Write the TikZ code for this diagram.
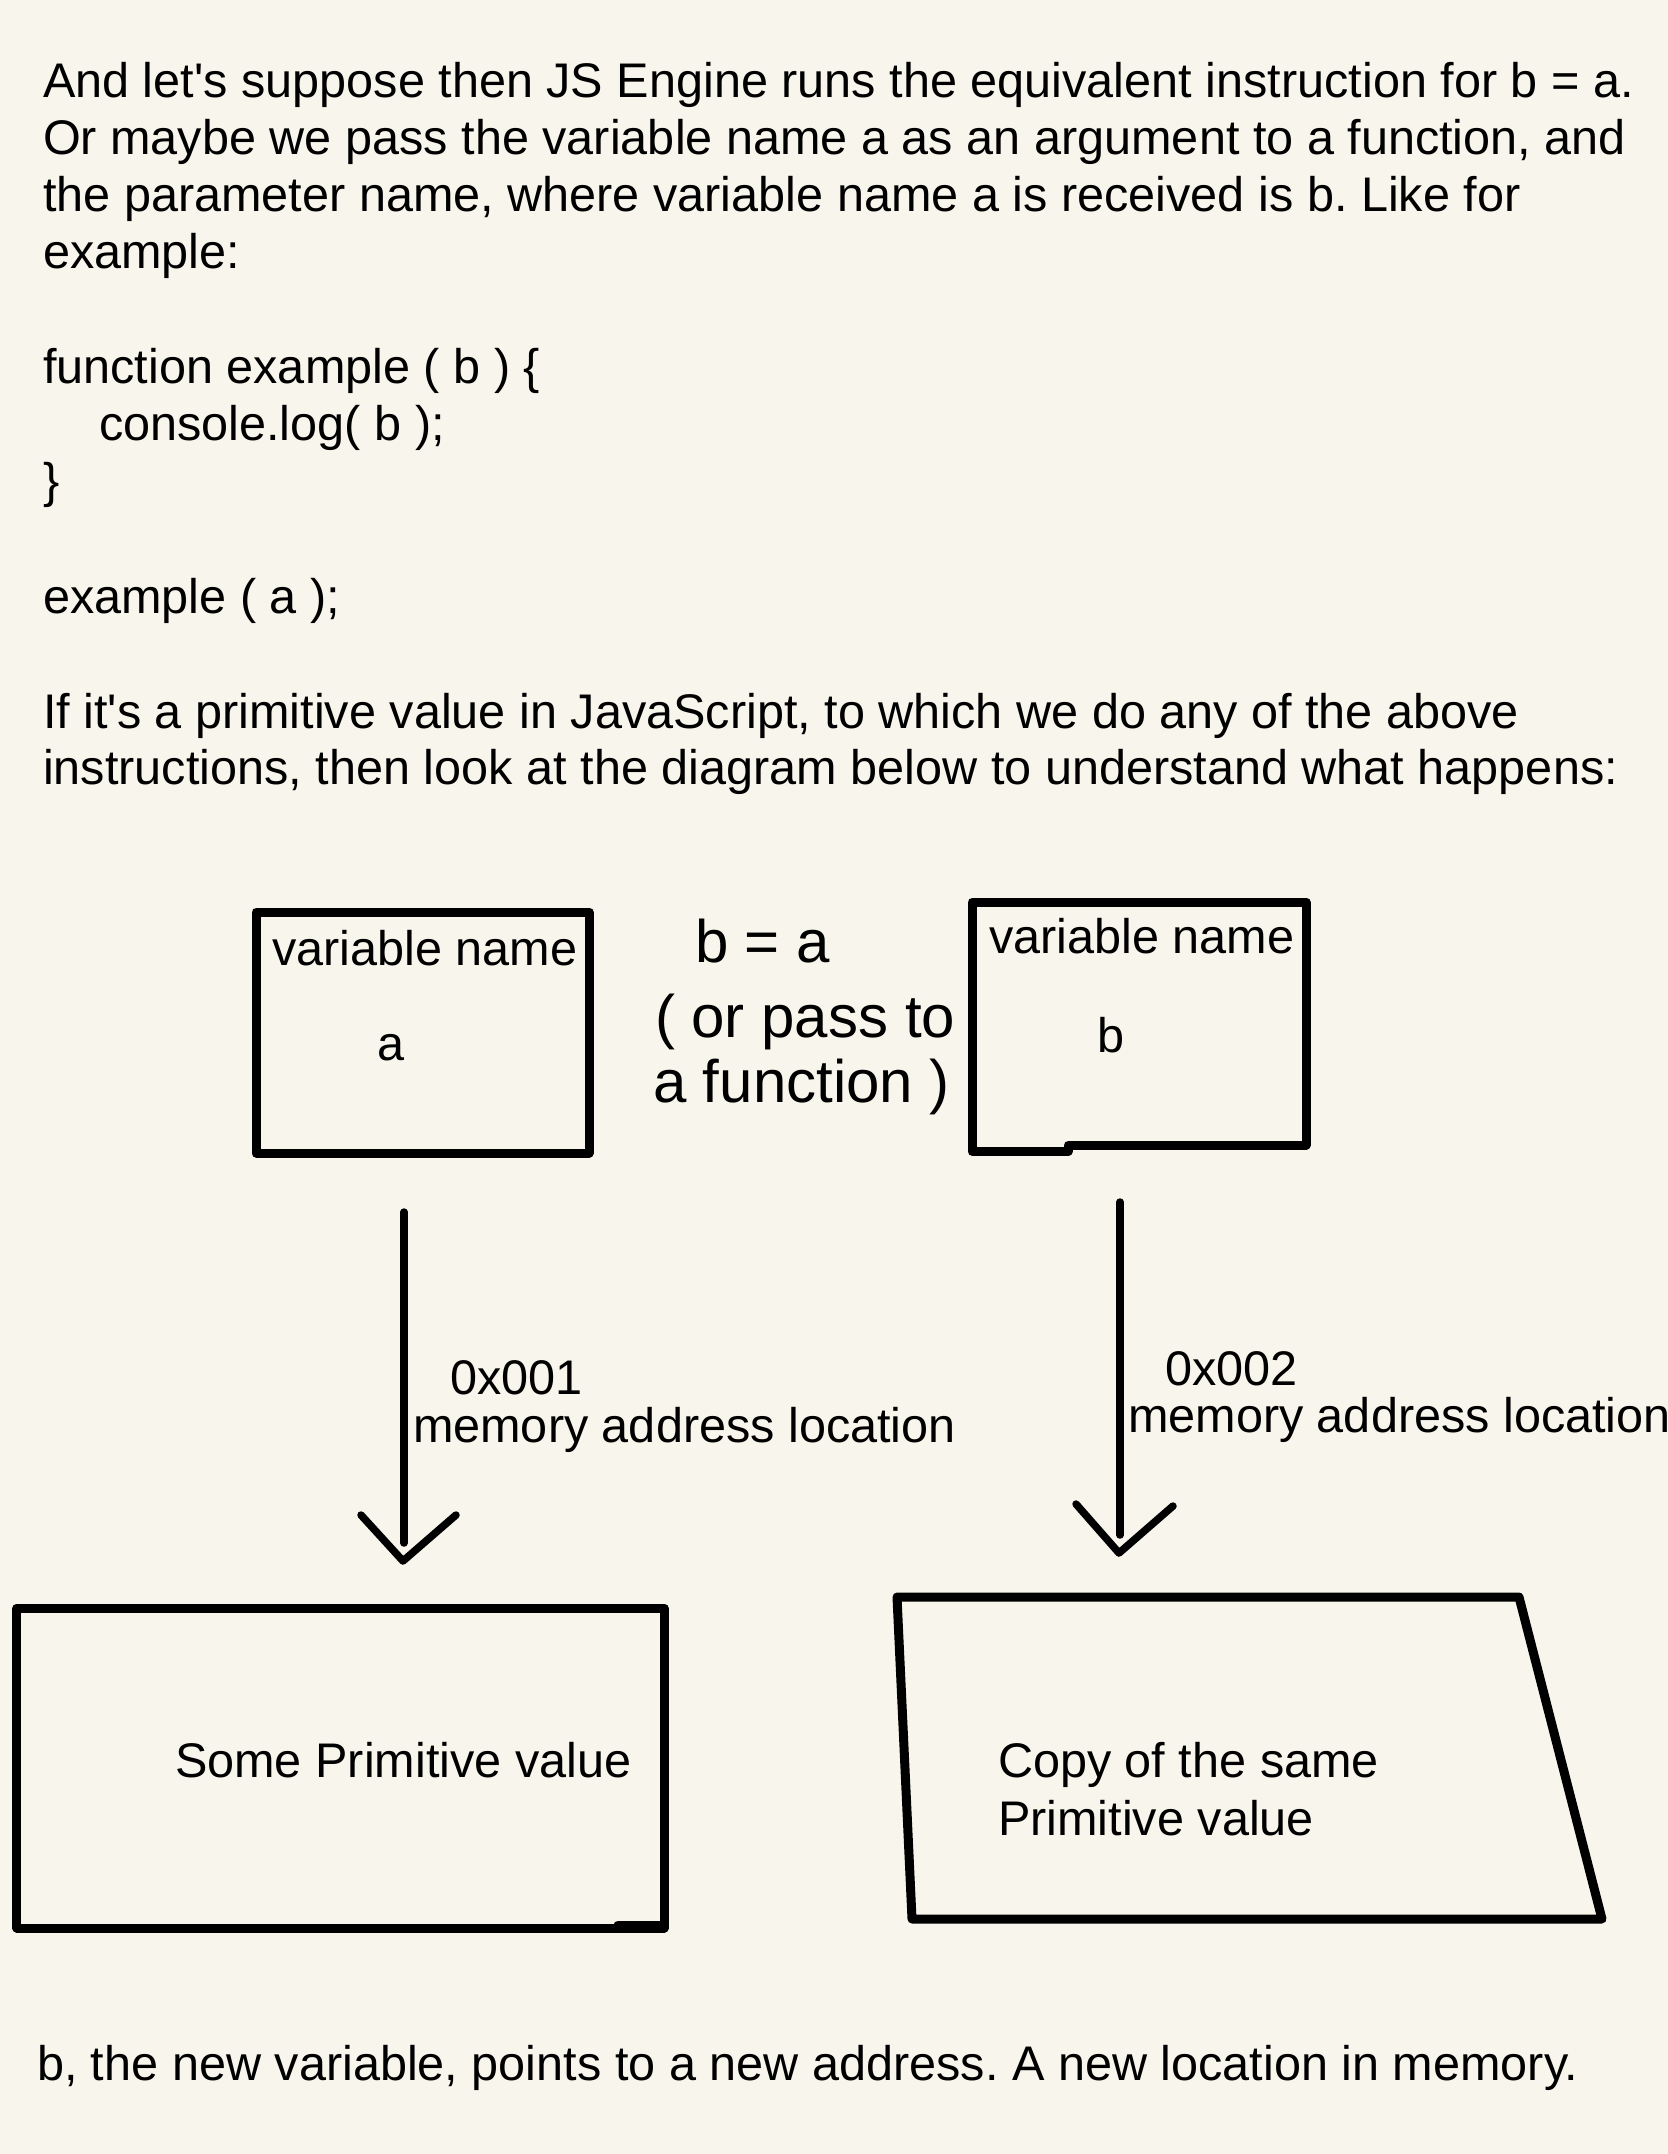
\documentclass[tikz,border=0pt]{standalone}
\usepackage{fontspec}
\setmainfont{Liberation Sans}
\definecolor{paper}{RGB}{248,246,236}
\frenchspacing
\begin{document}
\begin{tikzpicture}[x=1bp,y=-1bp,line cap=round,line join=round,
  txt/.style={anchor=base west,inner sep=0pt,outer sep=0pt,font=\fontsize{48.6bp}{57bp}\selectfont},
  big/.style={txt,font=\fontsize{60bp}{70bp}\selectfont},
  shapeline/.style={draw=black,line width=9bp},
  arr/.style={draw=black,line width=7.5bp}]
\fill[paper] (0,0) rectangle (1668,2154);
\useasboundingbox (0,0) rectangle (1668,2154);

% intro text
\node[txt] (t1) at (43,97) {And let\textquotesingle s suppose then JS Engine runs the equivalent instruction for b = a.};
\node[txt] (t2) at (43,154) {Or maybe we pass the variable name a as an argument to a function, and};
\node[txt] (t3) at (43,211) {the parameter name, where variable name a is received is b. Like for};
\node[txt] (t4) at (43,268) {example:};
\node[txt] (c1) at (43,383) {function example ( b ) \{};
\node[txt] (c2) at (99,440) {console.log( b );};
\node[txt] (c3) at (43,497) {\}};
\node[txt] (c4) at (43,613) {example ( a );};
\node[txt] (t5) at (43,728) {If it\textquotesingle s a primitive value in JavaScript, to which we do any of the above};
\node[txt] (t6) at (43,784) {instructions, then look at the diagram below to understand what happens:};

% variable boxes
\node[shapeline,minimum width=333bp,minimum height=241bp,inner sep=0pt] (boxA) at (422.5,1032.5) {};
\node[txt] (boxAname) at (272,965) {variable name};
\node[txt] (boxAvar) at (377,1060) {a};

\coordinate (bTL) at (972,902);
\coordinate (bTR) at (1306,902);
\coordinate (bBR) at (1306,1145);
\coordinate (bS1) at (1068,1145);
\coordinate (bS2) at (1068,1151.5);
\coordinate (bBL) at (972,1151.5);
\draw[shapeline] (bTL) -- (bTR) -- (bBR) -- (bS1) -- (bS2) -- (bBL) -- cycle;
\node[txt] (boxBname) at (989,953) {variable name};
\node[txt] (boxBvar) at (1097,1052) {b};

% assignment text
\node[big] (as1) at (695,962) {b = a};
\node[big] (as2) at (655,1037) {( or pass to};
\node[big] (as3) at (653,1102) {a function )};

% arrows
\coordinate (aS) at (404,1212);
\coordinate (aE) at (404,1543);
\coordinate (aT) at (403,1561);
\coordinate (aL) at (361,1515);
\coordinate (aR) at (456,1515);
\draw[arr] (aS) -- (aE);
\draw[arr] (aL) -- (aT) -- (aR);

\coordinate (bS) at (1120,1202);
\coordinate (bE) at (1120,1535);
\coordinate (bT) at (1119,1553);
\coordinate (bL) at (1076,1504);
\coordinate (bR) at (1173,1506);
\draw[arr] (bS) -- (bE);
\draw[arr] (bL) -- (bT) -- (bR);

\node[txt] (addrA) at (450,1394) {0x001};
\node[txt] (locA) at (413,1442) {memory address location};
\node[txt] (addrB) at (1165,1385) {0x002};
\node[txt] (locB) at (1128,1432) {memory address location};

% value boxes
\node[shapeline,minimum width=647bp,minimum height=320bp,inner sep=0pt] (valA) at (340.5,1768) {};
\draw[shapeline] (618,1925) -- (661,1925);
\node[txt] (valAtext) at (175,1777) {Some Primitive value};

\coordinate (pTL) at (897,1597);
\coordinate (pTR) at (1519,1597);
\coordinate (pBR) at (1602,1919);
\coordinate (pBL) at (912,1919);
\draw[shapeline] (pTL) -- (pTR) -- (pBR) -- (pBL) -- cycle;
\node[txt] (valB1) at (998,1777) {Copy of the same};
\node[txt] (valB2) at (998,1835) {Primitive value};

% conclusion
\node[txt] (t7) at (37,2080) {b, the new variable, points to a new address. A new location in memory.};
\end{tikzpicture}
\end{document}
